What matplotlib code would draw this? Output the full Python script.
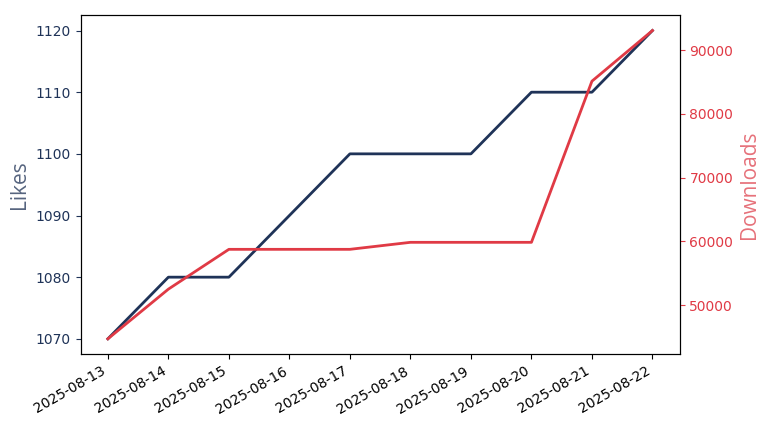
import matplotlib
matplotlib.use("Agg")
import matplotlib.pyplot as plt
import pandas as pd

dates = ["2025-08-13","2025-08-14","2025-08-15","2025-08-16","2025-08-17","2025-08-18","2025-08-19","2025-08-20","2025-08-21","2025-08-22"]
likes = [1070,1080,1080,1090,1100,1100,1100,1110,1110,1120]
downloads = [44700,52500,58750,58750,58750,59850,59850,59850,85150,93100]

x = pd.to_datetime(dates)
c1 = "#1f3358"; c2 = "#e03a45"
fig, ax = plt.subplots(figsize=(7.68,4.32), dpi=100)
ax.plot(x, likes, color=c1, lw=2)
ax.set_ylabel("Likes", color="#56647f", fontsize=15, family="Open Sans")
ax.tick_params(axis="y", colors=c1)
ax.set_xticks(x)
ax.set_xticklabels(dates, rotation=30, ha="right")
ax2 = ax.twinx()
ax2.plot(x, downloads, color=c2, lw=2)
ax2.set_ylabel("Downloads", color="#e6717a", fontsize=15, family="Open Sans")
ax2.tick_params(axis="y", colors=c2)
fig.subplots_adjust(left=0.105, right=0.885, top=0.965, bottom=0.18)
fig.savefig("out.png")
